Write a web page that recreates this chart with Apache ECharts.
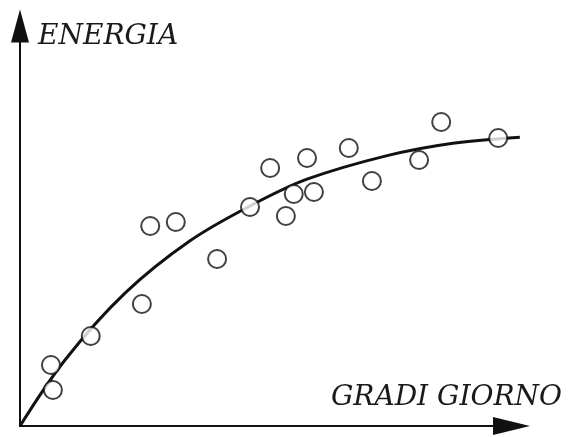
<!DOCTYPE html>
<html>
<head>
<meta charset="utf-8">
<script src="https://cdn.jsdelivr.net/npm/echarts@6/dist/echarts.min.js"></script>
<style>
  html, body { margin: 0; padding: 0; background: #ffffff; }
  #chart { width: 568px; height: 437px; }
</style>
</head>
<body>
<div id="chart"></div>
<script>
// Observed days-of-heating vs energy consumption (arbitrary units)
const obsGradi   = [6.3, 6.7, 14.4, 24.8, 26.5, 31.7, 40.1, 46.8, 50.9, 54.1, 55.7, 58.4, 59.8, 66.9, 71.6, 81.2, 85.7, 97.3];
const obsEnergia = [15.25, 9.0, 22.5, 30.5, 50.0, 51.0, 41.75, 54.75, 64.5, 52.5, 58.0, 67.0, 58.5, 69.5, 61.25, 66.5, 76.0, 72.0];

// Fitted trend curve
const curveGradi   = [0, 9.16, 21.36, 34.6, 47.2, 58.4, 74.7, 88.1, 101.7];
const curveEnergia = [0, 16.5, 33.2, 46.3, 55.25, 61.7, 67.6, 70.7, 72.2];

const xName = 'GRADI GIORNO';
const yName = 'ENERGIA';

const obsData = obsGradi.map((x, i) => [x, obsEnergia[i]]);
const curveData = curveGradi.map((x, i) => [x, curveEnergia[i]]);

const ink = '#111111';
const labelStyle = {
  fontFamily: 'DejaVu Serif',
  fontStyle: 'italic',
  fontSize: 28,
  fill: '#1a1a1a'
};

const chart = echarts.init(document.getElementById('chart'), null, { renderer: 'canvas' });
chart.setOption({
  animation: false,
  backgroundColor: '#ffffff',
  grid: { left: 20, right: 46.7, top: 26, bottom: 11, containLabel: false },
  xAxis: {
    type: 'value',
    min: 0,
    max: 102,
    axisLine: {
      show: true,
      symbol: ['none', 'triangle'],
      symbolSize: [18, 37],
      symbolOffset: [0, -9.8],
      lineStyle: { color: ink, width: 2 }
    },
    axisTick: { show: false },
    axisLabel: { show: false },
    splitLine: { show: false }
  },
  yAxis: {
    type: 'value',
    min: 0,
    max: 100,
    axisLine: {
      show: true,
      symbol: ['none', 'triangle'],
      symbolSize: [18, 33],
      symbolOffset: [0, 0],
      lineStyle: { color: ink, width: 2 }
    },
    axisTick: { show: false },
    axisLabel: { show: false },
    splitLine: { show: false }
  },
  // axis titles
  graphic: [
    {
      type: 'text',
      left: 38,
      top: 23,
      style: Object.assign({ text: yName }, labelStyle)
    },
    {
      type: 'text',
      right: 6,
      top: 384,
      style: Object.assign({ text: xName }, labelStyle)
    }
  ],
  series: [
    {
      type: 'line',
      data: curveData,
      smooth: 0.35,
      showSymbol: false,
      clip: false,
      lineStyle: { color: ink, width: 3 },
      z: 2
    },
    {
      type: 'scatter',
      data: obsData,
      symbol: 'circle',
      symbolSize: 18,
      itemStyle: { color: '#ffffff', borderColor: '#111111', borderWidth: 2 },
      z: 3
    }
  ]
});
</script>
</body>
</html>
